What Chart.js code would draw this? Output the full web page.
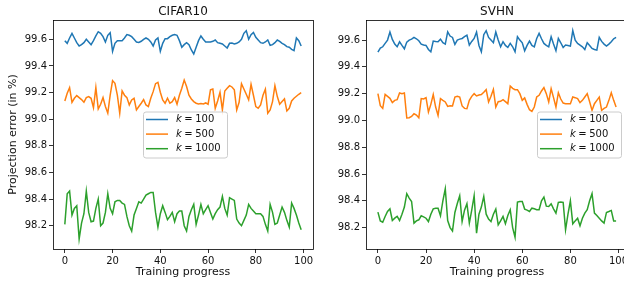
<!DOCTYPE html>
<html>
<head>
<meta charset="utf-8">
<script src="https://cdn.jsdelivr.net/npm/chart.js@4.4.1/dist/chart.umd.min.js"></script>
<style>
  body { margin: 0; width: 624px; height: 286px; overflow: hidden; background: #fff; position: relative; }
  canvas { position: absolute; top: 0; }
</style>
</head>
<body>
<canvas id="cifar" width="320" height="286" style="left:0"></canvas>
<canvas id="svhn" width="320" height="286" style="left:313px"></canvas>
<script>
// training progress steps 0..99
const steps = Array.from({ length: 100 }, (_, i) => i);
const xTicks = [0, 20, 40, 60, 80, 100];
const yTicks = [98.2, 98.4, 98.6, 98.8, 99.0, 99.2, 99.4, 99.6];
const kLabels = ['100', '500', '1000'];

const cifarK100 = [99.59,99.57,99.61,99.645,99.61,99.575,99.55,99.56,99.575,99.60,
  99.58,99.56,99.59,99.625,99.657,99.645,99.62,99.58,99.63,99.65,
  99.51,99.57,99.59,99.59,99.59,99.61,99.635,99.63,99.62,99.60,
  99.58,99.577,99.585,99.60,99.61,99.60,99.58,99.55,99.595,99.61,
  99.51,99.57,99.605,99.605,99.62,99.63,99.635,99.63,99.59,99.54,
  99.56,99.575,99.56,99.52,99.49,99.54,99.59,99.625,99.60,99.58,
  99.58,99.58,99.585,99.595,99.575,99.57,99.565,99.55,99.535,99.57,
  99.572,99.565,99.57,99.58,99.60,99.645,99.665,99.60,99.635,99.652,
  99.615,99.595,99.575,99.57,99.58,99.595,99.555,99.56,99.575,99.595,
  99.585,99.57,99.56,99.545,99.54,99.525,99.515,99.61,99.59,99.55];
const cifarK500 = [99.137,99.195,99.237,99.127,99.157,99.177,99.162,99.147,99.127,99.162,
  99.17,99.157,99.087,99.237,99.077,99.112,99.162,99.095,99.045,99.18,
  99.29,99.27,99.18,99.045,99.212,99.18,99.162,99.107,99.145,99.157,
  99.07,99.095,99.12,99.147,99.107,99.095,99.157,99.207,99.267,99.277,
  99.202,99.145,99.12,99.157,99.12,99.132,99.162,99.112,99.18,99.232,
  99.294,99.245,99.18,99.152,99.132,99.12,99.115,99.117,99.115,99.122,
  99.112,99.22,99.227,99.082,99.137,99.202,99.07,99.212,99.232,99.252,
  99.242,99.22,99.07,99.127,99.267,99.227,99.187,99.145,99.262,99.18,
  99.095,99.082,99.107,99.18,99.225,99.045,99.07,99.132,99.252,99.17,
  99.112,99.132,99.152,99.062,99.082,99.137,99.157,99.172,99.187,99.2];
const cifarK1000 = [98.21,98.44,98.46,98.28,98.33,98.35,98.10,98.22,98.29,98.46,
  98.30,98.23,98.235,98.33,98.40,98.20,98.22,98.30,98.44,98.33,
  98.29,98.38,98.39,98.39,98.37,98.36,98.27,98.20,98.16,98.28,
  98.33,98.38,98.37,98.40,98.43,98.44,98.45,98.45,98.30,98.19,
  98.29,98.35,98.30,98.245,98.27,98.30,98.23,98.29,98.31,98.31,
  98.20,98.16,98.27,98.32,98.36,98.21,98.28,98.36,98.29,98.32,
  98.35,98.30,98.25,98.29,98.32,98.34,98.42,98.33,98.28,98.41,
  98.40,98.39,98.25,98.22,98.20,98.24,98.28,98.36,98.33,98.31,
  98.29,98.29,98.29,98.27,98.21,98.16,98.36,98.30,98.21,98.22,
  98.28,98.34,98.30,98.24,98.19,98.37,98.33,98.28,98.22,98.17];

const svhnK100 = [99.51,99.54,99.55,99.575,99.60,99.66,99.605,99.57,99.55,99.587,
  99.56,99.535,99.585,99.60,99.607,99.62,99.61,99.595,99.57,99.563,
  99.56,99.53,99.513,99.593,99.59,99.588,99.607,99.58,99.57,99.662,
  99.63,99.62,99.568,99.60,99.607,99.612,99.625,99.637,99.563,99.59,
  99.612,99.66,99.56,99.513,99.64,99.67,99.62,99.60,99.58,99.66,
  99.60,99.55,99.588,99.56,99.545,99.575,99.55,99.513,99.625,99.60,
  99.58,99.52,99.56,99.593,99.56,99.55,99.612,99.65,99.61,99.575,
  99.56,99.55,99.625,99.57,99.52,99.612,99.58,99.545,99.563,99.56,
  99.555,99.672,99.60,99.575,99.563,99.55,99.53,99.58,99.56,99.538,
  99.53,99.525,99.62,99.59,99.57,99.555,99.57,99.588,99.61,99.62];
const svhnK500 = [99.20,99.11,99.09,99.195,99.18,99.165,99.133,99.15,99.155,99.205,
  99.20,99.205,99.018,99.02,99.03,99.05,99.04,99.02,99.163,99.16,
  99.17,99.063,99.12,99.193,99.10,99.038,99.163,99.15,99.138,99.105,
  99.11,99.108,99.175,99.18,99.175,99.108,99.09,99.088,99.15,99.18,
  99.20,99.183,99.19,99.193,99.21,99.23,99.138,99.18,99.232,99.10,
  99.14,99.143,99.155,99.14,99.125,99.257,99.24,99.23,99.23,99.20,
  99.15,99.168,99.12,99.08,99.068,99.10,99.175,99.188,99.22,99.245,
  99.20,99.138,99.237,99.17,99.10,99.207,99.16,99.13,99.125,99.125,
  99.125,99.175,99.17,99.163,99.133,99.15,99.175,99.20,99.14,99.075,
  99.125,99.15,99.175,99.075,99.09,99.10,99.15,99.207,99.15,99.10];
const svhnK1000 = [98.315,98.25,98.24,98.283,98.32,98.34,98.253,98.27,98.283,98.253,
  98.30,98.353,98.453,98.42,98.395,98.233,98.25,98.258,98.288,98.28,
  98.27,98.245,98.30,98.34,98.345,98.345,98.288,98.40,98.49,98.253,
  98.20,98.175,98.313,98.38,98.438,98.245,98.33,98.378,98.233,98.33,
  98.438,98.158,98.30,98.353,98.433,98.30,98.263,98.245,98.30,98.338,
  98.22,98.25,98.283,98.228,98.29,98.333,98.20,98.128,98.39,98.395,
  98.395,98.338,98.33,98.32,98.345,98.34,98.333,98.333,98.40,98.428,
  98.36,98.358,98.378,98.34,98.308,98.388,98.39,98.388,98.183,98.30,
  98.40,98.228,98.25,98.27,98.213,98.27,98.308,98.333,98.40,98.453,
  98.308,98.29,98.27,98.25,98.233,98.313,98.32,98.328,98.25,98.25];

const colors = ['#1f77b4', '#ff7f0e', '#2ca02c'];
const FONT = 'DejaVu Sans';

// spines, title and the matplotlib-like legend
const decor = {
  id: 'decor',
  afterDatasetsDraw(chart, args, opts) {
    const ctx = chart.ctx;
    const a = chart.chartArea;
    ctx.save();
    ctx.strokeStyle = '#000';
    ctx.lineWidth = 0.8;
    ctx.strokeRect(Math.round(a.left) + 0.5, Math.round(a.top) + 0.5,
      Math.round(a.right - a.left), Math.round(a.bottom - a.top));

    ctx.fillStyle = '#111';
    ctx.font = '12px "' + FONT + '"';
    ctx.textAlign = 'center';
    ctx.textBaseline = 'alphabetic';
    ctx.fillText(opts.title, (a.left + a.right) / 2, a.top - 5);

    // legend box
    const w = 84, h = 46;
    let bx;
    if (opts.legend === 'centerRight') bx = a.right - 7 - w;
    else bx = (a.left + a.right) / 2 - w / 2 + 2;
    const by = (a.top + a.bottom) / 2 - h / 2;
    ctx.beginPath();
    ctx.roundRect(bx + 0.5, by + 0.5, w, h, 2.5);
    ctx.fillStyle = 'rgba(255,255,255,0.8)';
    ctx.fill();
    ctx.strokeStyle = '#cccccc';
    ctx.lineWidth = 1;
    ctx.stroke();

    chart.data.datasets.forEach((ds, j) => {
      const yy = by + 8 + j * 14.6;
      ctx.strokeStyle = ds.borderColor;
      ctx.lineWidth = 1.5;
      ctx.beginPath();
      ctx.moveTo(bx + 3, yy);
      ctx.lineTo(bx + 25, yy);
      ctx.stroke();
      ctx.fillStyle = '#111';
      ctx.textAlign = 'left';
      ctx.textBaseline = 'middle';
      ctx.font = 'italic 10px "' + FONT + '"';
      const tx = bx + 33;
      ctx.fillText('k', tx, yy);
      const kw = ctx.measureText('k').width;
      ctx.font = '10px "' + FONT + '"';
      ctx.fillText('=', tx + kw + 2.5, yy);
      const ew = ctx.measureText('=').width;
      ctx.fillText(kLabels[j], tx + kw + ew + 5, yy);
    });
    ctx.restore();
  }
};

function makeChart(id, title, legendPos, series, yMin, yMax, showYTitle) {
  return new Chart(document.getElementById(id), {
    type: 'line',
    data: {
      datasets: series.map((s, j) => ({
        label: 'k = ' + kLabels[j],
        data: s.map((v, i) => ({ x: steps[i], y: v })),
        borderColor: colors[j],
        borderWidth: 1.5,
        pointRadius: 0,
        tension: 0,
        fill: false
      }))
    },
    options: {
      responsive: false,
      animation: false,
      layout: { padding: { top: 20, right: id === 'cifar' ? 7 : 5, bottom: 0, left: 0 } },
      plugins: {
        legend: { display: false },
        tooltip: { enabled: false },
        decor: { title: title, legend: legendPos }
      },
      scales: {
        x: {
          type: 'linear',
          min: -4.95,
          max: 103.95,
          afterBuildTicks: s => { s.ticks = xTicks.map(v => ({ value: v })); },
          afterFit: s => { s.height = 37; },
          grid: { drawOnChartArea: false, color: '#000', tickColor: '#000', tickLength: 4, lineWidth: 0.8 },
          border: { display: false },
          ticks: { color: '#111', font: { family: FONT, size: 10 }, padding: 2, maxRotation: 0 },
          title: { display: true, text: 'Training progress', color: '#111', font: { family: FONT, size: 11 }, padding: { top: 0, bottom: 7 } }
        },
        y: {
          min: yMin,
          max: yMax,
          afterBuildTicks: s => { s.ticks = yTicks.map(v => ({ value: v })); },
          afterFit: s => { s.width = 53; },
          grid: { drawOnChartArea: false, color: '#000', tickColor: '#000', tickLength: 4, lineWidth: 0.8 },
          border: { display: false },
          ticks: { color: '#111', font: { family: FONT, size: 10 }, padding: 2, callback: v => v.toFixed(1) },
          title: { display: showYTitle, text: 'Projection error (in %)', color: '#111', font: { family: FONT, size: 11 }, padding: { top: 7, bottom: 0 } }
        }
      }
    },
    plugins: [decor]
  });
}

makeChart('cifar', 'CIFAR10', 'center', [cifarK100, cifarK500, cifarK1000], 98.025, 99.745, true);
makeChart('svhn', 'SVHN', 'centerRight', [svhnK100, svhnK500, svhnK1000], 98.04, 99.75, false);
</script>
</body>
</html>
